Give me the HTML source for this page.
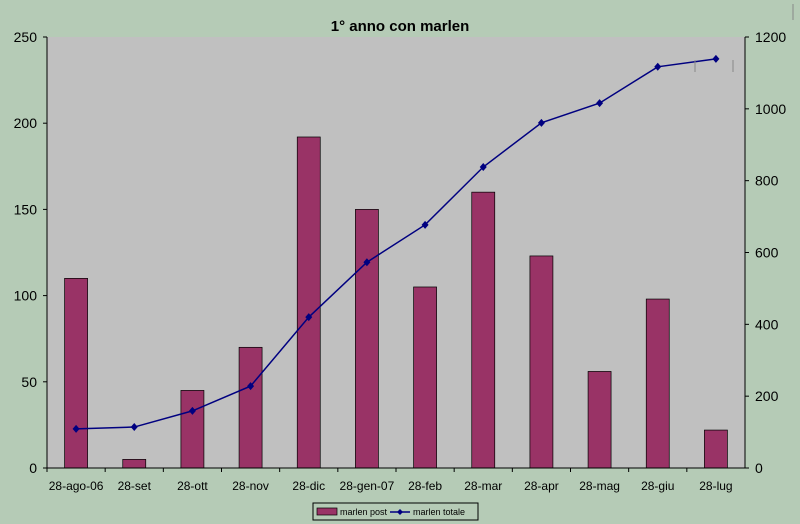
<!DOCTYPE html>
<html><head><meta charset="utf-8"><style>
body{margin:0;background:#b5cbb6;}
svg{display:block;font-family:"Liberation Sans",sans-serif;}
</style></head><body>
<svg id="c" width="800" height="524">
<rect x="0" y="0" width="800" height="524" fill="#b5cbb6"/>
<text x="400" y="31" text-anchor="middle" font-size="15" font-weight="bold" fill="#000">1° anno con marlen</text>
<rect x="47" y="37" width="698" height="431" fill="#c0c0c0"/>
<g id="bars"></g><g id="line"></g><g id="axes"></g>
<g>
<rect x="313" y="503" width="165" height="17" fill="#b5cbb6" stroke="#000" stroke-width="1"/>
<rect x="317" y="508" width="20" height="7" fill="#993366" stroke="#000" stroke-width="0.7"/>
<text x="340" y="515" font-size="9">marlen post</text>
<line x1="390" y1="512" x2="410" y2="512" stroke="#000080" stroke-width="1.5"/>
<path d="M400 509 L403 512 L400 515 L397 512Z" fill="#000080"/>
<text x="413" y="515" font-size="9">marlen totale</text>
</g>
<line x1="695" y1="60" x2="695" y2="72" stroke="#888"/>
<line x1="733" y1="60" x2="733" y2="72" stroke="#888"/>
<line x1="793" y1="4" x2="793" y2="20" stroke="#888"/>
</svg>
<script>
const categories=["28-ago-06","28-set","28-ott","28-nov","28-dic","28-gen-07","28-feb","28-mar","28-apr","28-mag","28-giu","28-lug"];
const postValues=[110,5,45,70,192,150,105,160,123,56,98,22];
const totaleValues=[109,114,159,228,420,573,677,838,961,1016,1117,1139];
const leftTicks=[0,50,100,150,200,250];
const rightTicks=[0,200,400,600,800,1000,1200];
const NS="http://www.w3.org/2000/svg";
const X0=47,X1=745,Y0=468,Y1=37,bw=(X1-X0)/categories.length;
const xC=i=>X0+bw*(i+0.5);
const yL=v=>Y0-(v/250)*(Y0-Y1);
const yR=v=>Y0-(v/1200)*(Y0-Y1);
function mk(t,a,p){const e=document.createElementNS(NS,t);for(const k in a)e.setAttribute(k,a[k]);p.appendChild(e);return e;}
const gb=document.getElementById('bars'),gl=document.getElementById('line'),ga=document.getElementById('axes');
postValues.forEach((v,i)=>{
 const r=mk('rect',{x:xC(i)-11.5,y:yL(v),width:23,height:Y0-yL(v),fill:'#993366',stroke:'#000','stroke-width':0.7},gb);
 
 
});
const pl=mk('polyline',{points:totaleValues.map((v,i)=>xC(i)+','+yR(v)).join(' '),fill:'none',stroke:'#000080','stroke-width':1.5},gl);


totaleValues.forEach((v,i)=>{
 const x=xC(i),y=yR(v);
 const p=mk('path',{d:`M${x} ${y-4}L${x+3.5} ${y}L${x} ${y+4}L${x-3.5} ${y}Z`,fill:'#000080'},gl);
 
 
});
mk('line',{x1:X0,y1:Y1,x2:X0,y2:Y0,stroke:'#000'},ga);
mk('line',{x1:X1,y1:Y1,x2:X1,y2:Y0,stroke:'#000'},ga);
mk('line',{x1:X0,y1:Y0,x2:X1,y2:Y0,stroke:'#000'},ga);
leftTicks.forEach(v=>{
 mk('line',{x1:X0-4,y1:yL(v),x2:X0,y2:yL(v),stroke:'#000'},ga);
 const t=mk('text',{x:X0-10,y:yL(v)+5,'text-anchor':'end','font-size':14},ga);t.textContent=v;
 
 
});
rightTicks.forEach(v=>{
 mk('line',{x1:X1,y1:yR(v),x2:X1+4,y2:yR(v),stroke:'#000'},ga);
 const t=mk('text',{x:X1+10,y:yR(v)+5,'font-size':14},ga);t.textContent=v;
 
 
});
categories.forEach((c,i)=>{
 mk('line',{x1:X0+bw*i,y1:Y0,x2:X0+bw*i,y2:Y0+4,stroke:'#000'},ga);
 const t=mk('text',{x:xC(i),y:Y0+22,'text-anchor':'middle','font-size':12},ga);t.textContent=c;
 
 
});
</script>
</body></html>
